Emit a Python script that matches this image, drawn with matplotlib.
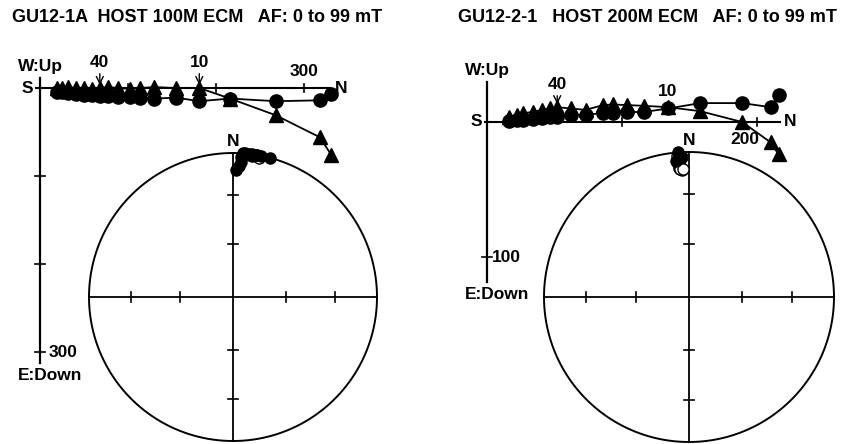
import numpy as np
import matplotlib
matplotlib.use("Agg")
import matplotlib.pyplot as plt

plt.rcParams["font.family"] = ["Liberation Sans", "DejaVu Sans"]
plt.rcParams["font.weight"] = "bold"

W_PX, H_PX, DPI = 846, 444, 100

# AF demagnetisation steps (mT), shared by both specimens
af_steps = [0, 2.5, 5, 7.5, 10, 12.5, 15, 20, 25, 30, 35, 40, 45, 50, 60, 70, 80, 99]

# GU12-1A: north, west and up components (arbitrary units)
a_north = [331, 318, 268, 216, 181, 155, 130, 114, 102, 89, 77, 68, 59, 50, 41, 32, 25, 19]
a_west = [-7, -14, -15, -12, -15, -11, -12, -11, -10, -10, -9, -9, -8, -8, -7, -6, -5, -5]
a_up = [-76, -56, -31, -12, 0, 0, 1, 0, -1, 0, 1, 0, -1, 0, 0, 1, 0, 0]

# GU12-2-1
b_north = [216, 210, 189, 158, 134, 116, 104, 93, 86, 73, 62, 52, 47, 41, 34, 27, 22, 16]
b_west = [20, 11, 14, 14, 10, 7.4, 7.4, 6.7, 6.7, 5.2, 5.2, 3.7, 3.7, 3.0, 2.2, 1.5, 1.5, 0.7]
b_up = [-24, -15, 0, 8, 11, 12, 12.5, 13, 12.5, 9, 10, 11, 10, 9, 7.5, 6.5, 5, 3.5]

titles = ["GU12-1A  HOST 100M ECM   AF: 0 to 99 mT",
          "GU12-2-1   HOST 200M ECM   AF: 0 to 99 mT"]

FS = 12.5


def px_axes(fig, box):
    x0, y0, x1, y1 = box
    return fig.add_axes([x0 / W_PX, 1 - y1 / H_PX, (x1 - x0) / W_PX, (y1 - y0) / H_PX])


def zij_axes(fig, box, origin, scale):
    ax = px_axes(fig, box)
    x0, y0, x1, y1 = box
    ax.set_xlim((x0 - origin[0]) / scale, (x1 - origin[0]) / scale)
    ax.set_ylim((origin[1] - y1) / scale, (origin[1] - y0) / scale)
    ax.axis("off")
    return ax


def draw_zij(ax, scale, north, west, up, h_ext, v_ext, h_ticks, v_ticks):
    k = 1.0 / scale  # data units per pixel
    ax.plot(h_ext, [0, 0], color="k", lw=1.5, zorder=1)
    ax.plot([0, 0], v_ext, color="k", lw=1.6, zorder=1)
    for t in h_ticks:
        ax.plot([t, t], [-4 * k, 4 * k], color="k", lw=1.2)
    for t in v_ticks:
        ax.plot([-5 * k, 5 * k], [t, t], color="k", lw=1.2)
    ax.plot(north, west, "-o", color="k", ms=9.5, lw=1.3, zorder=3)
    ax.plot(north, up, "-^", color="k", ms=10, lw=1.3, zorder=3)
    ax.annotate("S", (h_ext[0], 0), xytext=(-3, 0), textcoords="offset pixels",
                ha="right", va="center", fontsize=FS)
    ax.annotate("N", (h_ext[1], 0), xytext=(4, 0), textcoords="offset pixels",
                ha="left", va="center", fontsize=FS)
    ax.annotate("W:Up", (0, v_ext[1]), xytext=(-22, 4), textcoords="offset pixels",
                ha="left", va="bottom", fontsize=FS)
    ax.annotate("E:Down", (0, v_ext[0]), xytext=(-22, -5), textcoords="offset pixels",
                ha="left", va="top", fontsize=FS)


def step_label(ax, scale, north, west, up, field, dy, arrow=True):
    i = af_steps.index(field)
    top = max(west[i], up[i]) + 3.0 / scale
    props = dict(arrowstyle="->", color="k", lw=1.0, shrinkA=1, shrinkB=0) if arrow else None
    ax.annotate(f"{field:g}", (north[i], top), xytext=(0, dy), textcoords="offset pixels",
                ha="center", va="center", fontsize=FS, arrowprops=props)


def draw_stereo(fig, center, radius, north, west, up):
    cx, cy = center
    m = radius + 8
    ax = px_axes(fig, (cx - m, cy - m, cx + m, cy + m))
    lim = m / radius
    ax.set_xlim(-lim, lim)
    ax.set_ylim(-lim, lim)
    ax.axis("off")
    th = np.linspace(0, 2 * np.pi, 361)
    ax.plot(np.cos(th), np.sin(th), color="k", lw=1.4)
    ax.plot([-1, 1], [0, 0], color="k", lw=1.3)
    ax.plot([0, 0], [-1, 1], color="k", lw=1.3)
    tk = 5.0 / radius
    for inc in (30, 60):
        r = np.sqrt(2) * np.sin(np.radians(90 - inc) / 2)
        for s in (-1, 1):
            ax.plot([s * r, s * r], [-tk, tk], color="k", lw=1.2)
            ax.plot([-tk, tk], [s * r, s * r], color="k", lw=1.2)
    ax.text(0, 1.03, "N", ha="center", va="bottom", fontsize=FS)

    n = np.asarray(north, float)
    e = -np.asarray(west, float)
    d = -np.asarray(up, float)
    dec = np.arctan2(e, n)
    inc = np.arctan2(d, np.hypot(n, e))
    r = np.sqrt(2) * np.sin((np.pi / 2 - np.abs(inc)) / 2)
    x, y = r * np.sin(dec), r * np.cos(dec)
    lower = inc >= 0
    ax.plot(x[~lower], y[~lower], "o", ms=8, mfc="white", mec="k", mew=1.0, ls="none")
    ax.plot(x[lower], y[lower], "o", ms=8, mfc="k", mec="k", ls="none")


fig = plt.figure(figsize=(W_PX / DPI, H_PX / DPI), dpi=DPI)

# left specimen
sa = 0.88
ax1 = zij_axes(fig, (0, 30, 423, 444), (40, 88), sa)
draw_zij(ax1, sa, a_north, a_west, a_up, [-5, 330], [-313, 11], [100, 200, 300], [-100, -200, -300])
step_label(ax1, sa, a_north, a_west, a_up, 40, 23)
step_label(ax1, sa, a_north, a_west, a_up, 10, 23)
ax1.annotate("300", (300, 0), xytext=(0, 9), textcoords="offset pixels",
             ha="center", va="bottom", fontsize=FS)
ax1.annotate("300", (0, -300), xytext=(9, 0), textcoords="offset pixels",
             ha="left", va="center", fontsize=FS)
draw_stereo(fig, (233, 297), 144, a_north, a_west, a_up)

# right specimen
sb = 1.35
ax2 = zij_axes(fig, (423, 30, 846, 444), (487, 122), sb)
draw_zij(ax2, sb, b_north, b_west, b_up, [-1.5, 217], [-118.5, 29.6], [100, 200], [-100])
step_label(ax2, sb, b_north, b_west, b_up, 40, 20)
step_label(ax2, sb, b_north, b_west, b_up, 10, 13, arrow=False)
ax2.annotate("200", (200, 0), xytext=(-12, -17), textcoords="offset pixels",
             ha="center", va="center", fontsize=FS)
ax2.annotate("100", (0, -100), xytext=(5, 0), textcoords="offset pixels",
             ha="left", va="center", fontsize=FS)
draw_stereo(fig, (689, 297), 145, b_north, b_west, b_up)

fig.text(12 / W_PX, 1 - 17 / H_PX, titles[0], ha="left", va="center", fontsize=13)
fig.text(458 / W_PX, 1 - 17 / H_PX, titles[1], ha="left", va="center", fontsize=13)

fig.savefig("out.png", dpi=DPI)
